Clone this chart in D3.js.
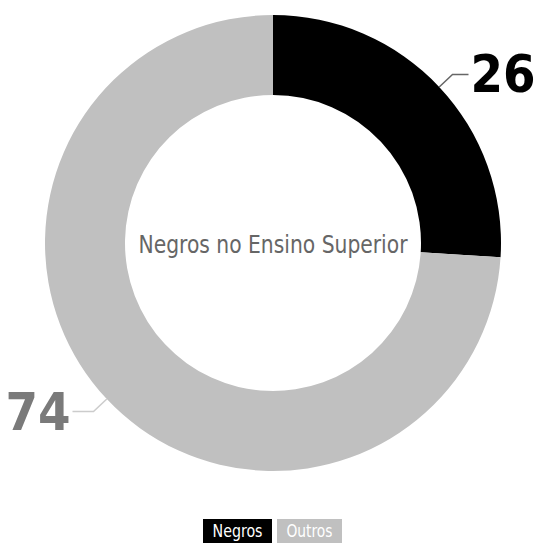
<!DOCTYPE html>
<meta charset="utf-8">
<style>
body { margin: 0; background: #fff; }
text { font-family: "Liberation Sans Narrow", "DejaVu Sans Condensed", sans-serif; }
</style>
<svg width="535" height="544"></svg>
<script src="https://cdn.jsdelivr.net/npm/d3@7"></script>
<script>
var categories = ["Negros", "Outros"];
var values = [26, 74];
var colors = ["#000000", "#c0c0c0"];
var labelColors = ["#000000", "#7a7a7a"];
var lineColors = ["#666666", "#cccccc"];
var title = "Negros no Ensino Superior";

var svg = d3.select("svg");
var cx = 273, cy = 243, outer = 228, inner = 148;

var data = categories.map(function(c, i) { return { name: c, value: values[i], i: i }; });

var pie = d3.pie().sort(null).value(function(d) { return d.value; });
var arc = d3.arc().innerRadius(inner).outerRadius(outer);
var edgeArc = d3.arc().innerRadius(outer).outerRadius(outer);
var elbowArc = d3.arc().innerRadius(outer * 1.08).outerRadius(outer * 1.08);

var g = svg.append("g").attr("transform", "translate(" + cx + "," + cy + ")");
var arcs = pie(data);

g.selectAll("path.slice")
  .data(arcs)
  .enter().append("path")
  .attr("class", "slice")
  .attr("d", arc)
  .attr("fill", function(d) { return colors[d.data.i]; });

// leader lines
g.selectAll("polyline")
  .data(arcs)
  .enter().append("polyline")
  .attr("fill", "none")
  .attr("stroke", function(d) { return lineColors[d.data.i]; })
  .attr("stroke-width", 1.5)
  .attr("points", function(d) {
    var a = edgeArc.centroid(d), b = elbowArc.centroid(d);
    var mid = (d.startAngle + d.endAngle) / 2;
    var c = [b[0] + (mid < Math.PI ? 16 : -21), b[1]];
    return [a, b, c].join(" ");
  });

g.selectAll("text.val")
  .data(arcs)
  .enter().append("text")
  .attr("class", "val")
  .attr("x", function(d) {
    var b = elbowArc.centroid(d);
    var mid = (d.startAngle + d.endAngle) / 2;
    return b[0] + (mid < Math.PI ? 18 : -23);
  })
  .attr("y", function(d) { return elbowArc.centroid(d)[1] + 18; })
  .attr("text-anchor", function(d) { return (d.startAngle + d.endAngle) / 2 < Math.PI ? "start" : "end"; })
  .attr("font-size", 52)
  .attr("font-weight", "bold")
  .attr("fill", function(d) { return labelColors[d.data.i]; })
  .text(function(d) { return d.data.value; });

g.append("text")
  .attr("text-anchor", "middle")
  .attr("y", 10)
  .attr("font-size", 24)
  .attr("textLength", 269)
  .attr("lengthAdjust", "spacingAndGlyphs")
  .attr("fill", "#666")
  .text(title);

// legend
var legend = svg.append("g").attr("transform", "translate(0,519)");
var lx = [203, 277], lw = [69, 65];
var item = legend.selectAll("g")
  .data(data)
  .enter().append("g")
  .attr("transform", function(d) { return "translate(" + lx[d.i] + ",0)"; });
item.append("rect")
  .attr("width", function(d) { return lw[d.i]; })
  .attr("height", 24)
  .attr("fill", function(d) { return colors[d.i]; });
item.append("text")
  .attr("x", function(d) { return lw[d.i] / 2; })
  .attr("y", 18)
  .attr("text-anchor", "middle")
  .attr("font-size", 18)
  .attr("textLength", function(d) { return d.i === 0 ? 50 : 46; })
  .attr("lengthAdjust", "spacingAndGlyphs")
  .attr("fill", "#fff")
  .text(function(d) { return d.name; });
</script>
